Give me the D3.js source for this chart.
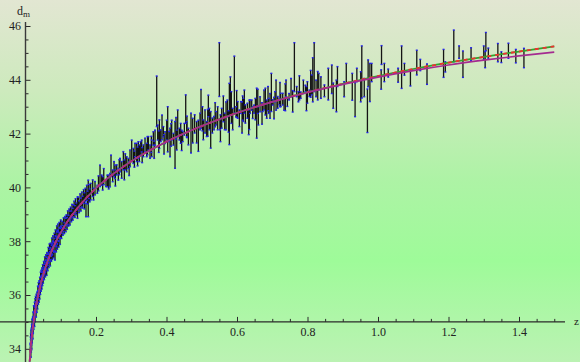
<!DOCTYPE html>
<html><head><meta charset="utf-8">
<script src="https://cdn.jsdelivr.net/npm/d3@7"></script>
<style>html,body{margin:0;padding:0;background:#fff;}svg{display:block;}</style>
</head><body>
<svg id="c" width="580" height="362"></svg>
<script>
// ---- data: supernova points [z, distance modulus, error] ----
const snLow = [[0.0140,33.92,0.24],[0.0145,34.20,0.24],[0.015,33.95,0.26],[0.0152,34.35,0.22],[0.0158,34.05,0.18],[0.016,34.45,0.25],[0.0165,34.15,0.20],[0.017,34.55,0.22],[0.0175,34.25,0.26],[0.018,34.70,0.20],[0.0185,34.40,0.18],[0.019,34.85,0.24],[0.0195,34.55,0.20],[0.020,34.95,0.18],[0.0205,34.60,0.22],[0.021,35.00,0.20],[0.0215,34.75,0.16],[0.022,35.15,0.22],[0.023,34.90,0.18],[0.0235,35.35,0.25],[0.024,35.00,0.16],[0.025,35.40,0.20],[0.0255,35.05,0.22],[0.026,35.55,0.18],[0.027,35.20,0.20],[0.0275,35.65,0.22],[0.028,35.35,0.18],[0.029,35.75,0.20],[0.030,35.40,0.22],[0.031,35.85,0.18],[0.032,35.55,0.20],[0.033,35.95,0.16],[0.034,35.70,0.22],[0.035,36.15,0.18],[0.036,35.85,0.20],[0.037,36.30,0.16],[0.038,35.95,0.22],[0.039,36.35,0.18],[0.040,36.05,0.20],[0.041,36.50,0.16],[0.042,36.20,0.18],[0.043,36.65,0.20],[0.044,36.30,0.16],[0.045,36.70,0.22],[0.046,36.40,0.18],[0.047,36.85,0.16],[0.048,36.55,0.20],[0.049,36.95,0.18],[0.050,36.60,0.16],[0.052,37.05,0.20],[0.053,36.75,0.18],[0.055,37.20,0.22],[0.056,36.85,0.18],[0.058,37.30,0.20],[0.060,36.95,0.22],[0.061,37.40,0.18],[0.063,37.10,0.20],[0.065,37.55,0.22],[0.066,37.20,0.18],[0.068,37.70,0.20],[0.070,37.30,0.22],[0.071,37.75,0.18],[0.073,37.45,0.20],[0.075,37.90,0.22],[0.076,37.50,0.18],[0.078,38.00,0.20],[0.080,37.60,0.22],[0.082,38.10,0.20],[0.0837,37.62,0.32],[0.085,38.20,0.22],[0.087,37.80,0.20],[0.089,38.35,0.22],[0.090,37.90,0.20],[0.092,38.40,0.24],[0.094,38.00,0.22],[0.096,38.50,0.20],[0.098,38.10,0.22],[0.100,38.55,0.24],
[0.0148,34.05,0.15],[0.0162,34.28,0.15],[0.0178,34.50,0.14],[0.0198,34.72,0.15],[0.0218,34.92,0.14],[0.0245,35.18,0.15],[0.0268,35.40,0.14],[0.0295,35.58,0.15],[0.0325,35.80,0.14],[0.0355,36.00,0.15],[0.0385,36.18,0.14],[0.0415,36.36,0.15],[0.0445,36.52,0.14],[0.0485,36.70,0.15],[0.054,36.98,0.16],[0.059,37.12,0.15],[0.064,37.35,0.16],[0.069,37.46,0.15],[0.074,37.68,0.16],[0.079,37.80,0.15],[0.086,38.00,0.17],[0.093,38.18,0.16],[0.099,38.30,0.17]];

const snMid1 = [[0.102,38.30,0.20],[0.104,38.52,0.22],[0.106,38.40,0.18],[0.108,38.62,0.25],[0.110,38.48,0.20],[0.112,38.70,0.22],[0.1144,38.60,0.25],[0.116,38.78,0.20],[0.118,38.66,0.22],[0.120,38.88,0.25],[0.122,38.76,0.20],[0.124,38.98,0.22],[0.126,38.86,0.26],[0.128,39.05,0.22],[0.130,38.92,0.20],[0.132,39.12,0.25],[0.134,39.00,0.22],[0.1357,39.13,0.22],[0.138,39.25,0.24],[0.140,39.10,0.22],[0.142,39.32,0.26],[0.144,39.20,0.22],[0.1475,39.25,0.40],[0.150,39.40,0.24],[0.152,39.28,0.22],[0.155,39.50,0.26],[0.157,39.36,0.24],[0.160,39.55,0.28],[0.162,39.45,0.22],[0.165,39.66,0.26],[0.167,39.50,0.30],[0.170,39.72,0.25],[0.1716,39.16,0.25],[0.174,39.80,0.28],[0.176,39.62,0.24],[0.178,39.59,0.68],[0.180,39.85,0.26],[0.182,39.70,0.24],
[0.1849,39.84,0.31],[0.1906,39.97,0.31],[0.1972,39.97,0.25],[0.2038,39.93,0.15],[0.2114,40.43,0.40],[0.2161,40.27,0.19],[0.2189,40.15,0.25],[0.2284,40.15,0.12],[0.2322,40.24,0.22],[0.2398,40.27,0.25],[0.2426,40.80,0.40],[0.2473,40.43,0.22],[0.2511,40.68,0.28],[0.2540,40.58,0.25],[0.2587,40.65,0.19],[0.2634,40.49,0.22],[0.2681,40.83,0.25],[0.2729,40.65,0.31],[0.2776,40.99,0.34],[0.2804,40.65,0.37],[0.2871,40.86,0.28],[0.2918,40.89,0.19],[0.2965,41.08,0.31],[0.3013,41.36,0.40],[0.3060,41.17,0.28],[0.3107,41.39,0.25],[0.3154,41.30,0.34],[0.3202,41.39,0.31],[0.3230,41.27,0.31],[0.3268,41.45,0.25],[0.3296,41.54,0.22],[0.3344,41.36,0.22],[0.3391,41.58,0.25],[0.3438,41.39,0.25],[0.3486,41.64,0.25],[0.3533,41.33,0.25],[0.3580,41.45,0.31],[0.3627,41.82,0.25],[0.3675,41.85,0.28],[0.3722,43.20,0.94],[0.3750,42.04,0.28],[0.3798,41.98,0.53],[0.3836,41.92,0.22],[0.3873,42.23,0.46],[0.3911,42.07,0.19],[0.3959,41.85,0.22],[0.4006,42.13,0.37],[0.4034,42.16,0.84],[0.4072,41.89,0.19],[0.4100,41.67,0.53],[0.4148,42.13,0.37],[0.4195,41.79,0.22],[0.4242,41.58,0.87],[0.4290,41.76,0.37],[0.4318,42.38,0.50],[0.4365,41.98,0.22],[0.4403,42.01,0.37],[0.4460,41.89,0.19],[0.4507,42.16,0.22],[0.4545,42.91,0.53],[0.4573,42.16,0.28],[0.4621,41.89,0.31],
[0.193,39.75,0.22],[0.207,40.15,0.28],[0.222,40.40,0.30],[0.236,40.20,0.26],[0.255,40.35,0.30],[0.266,40.75,0.28],[0.283,40.95,0.30],[0.294,40.70,0.26],[0.309,41.05,0.30],[0.318,41.15,0.35],[0.331,41.20,0.28],[0.346,41.55,0.34],[0.357,41.60,0.30],[0.365,41.40,0.32],[0.378,41.70,0.40],[0.393,41.60,0.36],[0.413,41.95,0.42],[0.427,42.20,0.40],[0.443,41.75,0.38],[0.458,42.25,0.40]];

const snMid2 = [[0.4695,42.02,0.74],[0.4743,42.11,0.46],[0.4799,42.36,0.34],[0.4856,42.05,0.40],[0.4904,41.92,0.58],[0.4951,42.45,0.31],[0.4979,42.92,0.72],[0.5045,42.14,0.37],[0.5093,42.45,0.43],[0.5140,42.17,0.28],[0.5187,43.03,0.40],[0.5216,42.54,0.40],[0.5254,42.14,0.68],[0.5301,42.30,0.28],[0.5348,42.39,0.25],[0.5405,42.57,0.25],[0.5452,42.57,0.43],[0.5499,44.38,1.00],[0.5518,42.33,0.19],[0.5566,42.57,0.37],[0.5613,42.92,0.48],[0.5651,42.45,0.31],[0.5689,42.66,0.52],[0.5727,42.94,0.31],[0.5783,42.73,1.14],[0.5812,43.40,0.71],[0.5840,42.97,0.59],[0.5878,42.54,0.40],[0.5925,43.82,1.06],[0.5973,42.81,0.19],[0.6020,42.88,0.31],[0.6067,42.57,0.31],[0.6114,42.97,0.22],[0.6143,42.60,0.58],[0.6181,42.88,0.43],[0.6209,43.19,0.43],[0.6237,42.73,0.34],[0.6294,42.85,0.28],[0.6332,42.42,0.46],[0.6370,43.00,0.25],[0.6417,43.06,0.19],[0.6445,42.78,0.22],[0.6483,42.91,0.15],[0.6521,42.91,0.40],[0.6559,42.76,0.93],[0.6606,42.66,0.34],[0.6654,43.09,0.28],[0.6729,42.94,0.12],[0.6767,43.25,0.37],[0.6805,43.19,0.50],[0.6843,42.91,0.34],[0.6900,43.03,0.28],[0.6937,43.03,0.46],[0.6975,43.53,0.71],[0.7013,43.16,0.10],[0.7079,43.37,0.19],[0.7108,43.43,0.56],[0.7155,43.16,0.22],[0.7202,43.19,0.12],[0.7240,43.25,0.25],[0.7297,43.28,0.22],[0.7335,43.09,0.22],[0.7391,43.68,0.31],[0.7429,43.16,0.15],[0.7477,43.37,0.12],[0.7533,43.71,0.34],[0.7628,44.47,0.91],[0.7694,43.56,0.19],[0.7742,43.37,0.19],[0.7808,43.43,0.12],[0.7883,43.74,0.25],[0.7940,43.68,0.12],[0.7997,43.53,0.40],[0.8054,43.50,0.12],[0.8120,43.81,0.37],[0.8150,44.00,0.82],[0.8190,44.47,0.91],[0.8243,43.68,0.31],[0.8290,43.78,0.53],[0.8319,43.93,0.31],
[0.838,43.71,0.40],[0.848,43.59,0.22],[0.859,43.84,0.59],[0.869,44.02,0.53],[0.873,43.41,0.47],[0.882,43.40,0.59],[0.885,44.12,0.37],[0.904,43.65,0.28],[0.910,44.24,0.37],[0.927,43.74,0.50],[0.935,43.26,0.63],[0.940,44.18,0.25],[0.951,43.74,0.56],[0.954,44.29,0.97],[0.961,43.71,0.34],[0.970,42.85,0.81],[0.972,44.24,0.50],[0.977,43.90,0.71],[0.982,44.27,0.34],
[0.502,42.55,0.45],[0.517,42.40,0.50],[0.538,42.70,0.45],[0.553,42.20,0.50],[0.576,42.45,0.40],[0.599,43.10,0.50],[0.616,42.95,0.45],[0.635,42.70,0.55],[0.659,43.20,0.45],[0.671,42.75,0.40],[0.688,43.30,0.45],[0.705,42.95,0.40],[0.722,43.45,0.45],[0.737,43.35,0.50],[0.758,43.20,0.40],[0.777,43.70,0.45],[0.797,43.30,0.45],[0.809,43.85,0.50]];

const snHigh = [[1.009,44.01,0.36],[1.010,44.92,0.35],[1.018,44.27,0.34],[1.029,44.25,0.15],[1.057,44.17,0.26],[1.067,44.47,0.79],[1.075,44.39,0.22],[1.092,44.07,0.30],[1.110,44.64,0.46],[1.120,44.55,0.21],[1.139,44.21,0.38],[1.186,44.61,0.52],[1.191,44.48,0.19],[1.215,45.26,0.59],[1.230,45.03,0.23],[1.241,44.58,0.49],[1.264,44.95,0.24],[1.300,45.01,0.25],[1.304,44.75,0.30],[1.306,45.42,0.34],[1.313,44.99,0.19],[1.340,45.01,0.34],[1.350,44.84,0.20],[1.370,45.08,0.28],[1.391,44.88,0.25],[1.414,44.81,0.36]];

// ---- model curves ----
const curveZ   = [0.009,0.01,0.0125,0.015,0.02,0.025,0.03,0.04,0.05,0.06,0.07,0.08,0.09,0.1,0.12,0.15,0.2,0.25,0.3,0.4,0.5,0.6,0.7,0.8,0.9,1.0,1.1,1.2,1.3,1.4,1.5];
const muLCDM   = [32.95,33.18,33.66,34.07,34.70,35.19,35.60,36.24,36.74,37.15,37.50,37.81,38.08,38.32,38.75,39.27,39.97,40.51,40.97,41.70,42.28,42.77,43.18,43.54,43.85,44.14,44.40,44.64,44.85,45.05,45.24];
const muModel  = [32.95,33.18,33.66,34.07,34.70,35.19,35.60,36.24,36.74,37.15,37.50,37.81,38.08,38.32,38.75,39.27,39.97,40.51,40.97,41.70,42.28,42.77,43.18,43.53,43.83,44.10,44.34,44.55,44.73,44.89,45.03];

// ---- ticks ----
const xMajorTicks = [0.2,0.4,0.6,0.8,1.0,1.2,1.4];
const xMinorTicks = [0.05,0.1,0.15,0.25,0.3,0.35,0.45,0.5,0.55,0.65,0.7,0.75,0.85,0.9,0.95,1.05,1.1,1.15,1.25,1.3,1.35,1.45,1.5];
const yMajorTicks = [34,36,38,40,42,44,46];
const yMinorTicks = [34.5,35,35.5,36.5,37,37.5,38.5,39,39.5,40.5,41,41.5,42.5,43,43.5,44.5,45,45.5];

const svg = d3.select("#c");
const W = 580, H = 362;

// background gradient
const defs = svg.append("defs");
const g = defs.append("linearGradient").attr("id","bg").attr("x1",0).attr("y1",0).attr("x2",0).attr("y2",1);
[[0,"#e2e6d2"],[0.25,"#cdeabd"],[0.5,"#adf3a5"],[0.72,"#9efb99"],[1,"#bbf2b3"]].forEach(s=>g.append("stop").attr("offset",s[0]).attr("stop-color",s[1]));
svg.append("rect").attr("width",W).attr("height",H).attr("fill","url(#bg)");

const x = d3.scaleLinear().domain([0,1.5]).range([25.5,554.25]);
const y = d3.scaleLinear().domain([34,46]).range([348.8,26]);

const allSN = snLow.concat(snMid1, snMid2, snHigh);

// error bars
const bars = svg.append("g");
bars.selectAll("line.eb").data(allSN).join("line").attr("class","eb")
  .attr("x1",d=>x(d[0])).attr("x2",d=>x(d[0]))
  .attr("y1",d=>y(d[1]+d[2])).attr("y2",d=>y(d[1]-d[2]))
  .attr("stroke","#141414").attr("stroke-width",1.3);
// blue caps at both ends of each bar
const caps = svg.append("g").attr("fill","#2323e8");
caps.selectAll("rect.t").data(allSN).join("rect").attr("class","t")
  .attr("x",d=>x(d[0])-1).attr("y",d=>y(d[1]+d[2])-0.7).attr("width",2).attr("height",1.4);
caps.selectAll("rect.b").data(allSN).join("rect").attr("class","b")
  .attr("x",d=>x(d[0])-1).attr("y",d=>y(d[1]-d[2])-0.7).attr("width",2).attr("height",1.4);
// blue data points only where the sample is dense (low z)
caps.selectAll("circle").data(snLow).join("circle")
  .attr("cx",d=>x(d[0])).attr("cy",d=>y(d[1])).attr("r",1.1);

// axes
const fontFam = "'Liberation Serif','DejaVu Serif',serif";
const xAxisY = y(35);
const xa = svg.append("g").attr("transform",`translate(0,${xAxisY})`)
  .call(d3.axisBottom(x).tickValues(xMajorTicks).tickSize(-5).tickPadding(6).tickFormat(d3.format(".1f")));
const xm = svg.append("g").attr("transform",`translate(0,${xAxisY})`)
  .call(d3.axisBottom(x).tickValues(xMinorTicks).tickSize(-3).tickFormat(""));
const ya = svg.append("g").attr("transform",`translate(${x(0)},0)`)
  .call(d3.axisLeft(y).tickValues(yMajorTicks).tickSize(-5).tickPadding(4.5).tickFormat(d3.format("d")));
const ym = svg.append("g").attr("transform",`translate(${x(0)},0)`)
  .call(d3.axisLeft(y).tickValues(yMinorTicks).tickSize(-3).tickFormat(""));
[xa,xm,ya,ym].forEach(a=>{
  a.select(".domain").remove();
  a.selectAll(".tick line").attr("stroke","#2a2a2a").attr("stroke-width",1);
  a.selectAll("text").attr("font-family",fontFam).attr("font-size",12).attr("fill","#222");
});
svg.append("line").attr("x1",0).attr("x2",565).attr("y1",xAxisY).attr("y2",xAxisY).attr("stroke","#2a2a2a").attr("stroke-width",1.4);
svg.append("line").attr("x1",x(0)).attr("x2",x(0)).attr("y1",22).attr("y2",H).attr("stroke","#3a3a3a").attr("stroke-width",1.4);

// curves
const pts = (arr)=>curveZ.map((z,i)=>[z,arr[i]]);
const line = d3.line().x(d=>x(d[0])).y(d=>y(d[1])).curve(d3.curveMonotoneX);
svg.append("path").attr("d",line(pts(muLCDM))).attr("fill","none").attr("stroke","#2ea62e").attr("stroke-width",1.7);
svg.append("path").attr("d",line(pts(muLCDM))).attr("fill","none").attr("stroke","#f03030").attr("stroke-width",1.8).attr("stroke-dasharray","4,4");
svg.append("path").attr("d",line(pts(muModel))).attr("fill","none").attr("stroke","#a42a90").attr("stroke-width",1.6);

// labels
const lab = svg.append("text").attr("x",17).attr("y",15).attr("font-family",fontFam).attr("fill","#222");
lab.append("tspan").attr("font-size",12).text("d");
lab.append("tspan").attr("font-size",9).attr("dy",2).text("m");
svg.append("text").attr("x",574).attr("y",325).attr("font-family",fontFam).attr("font-size",11).attr("fill","#222").text("z");
</script>
</body></html>
